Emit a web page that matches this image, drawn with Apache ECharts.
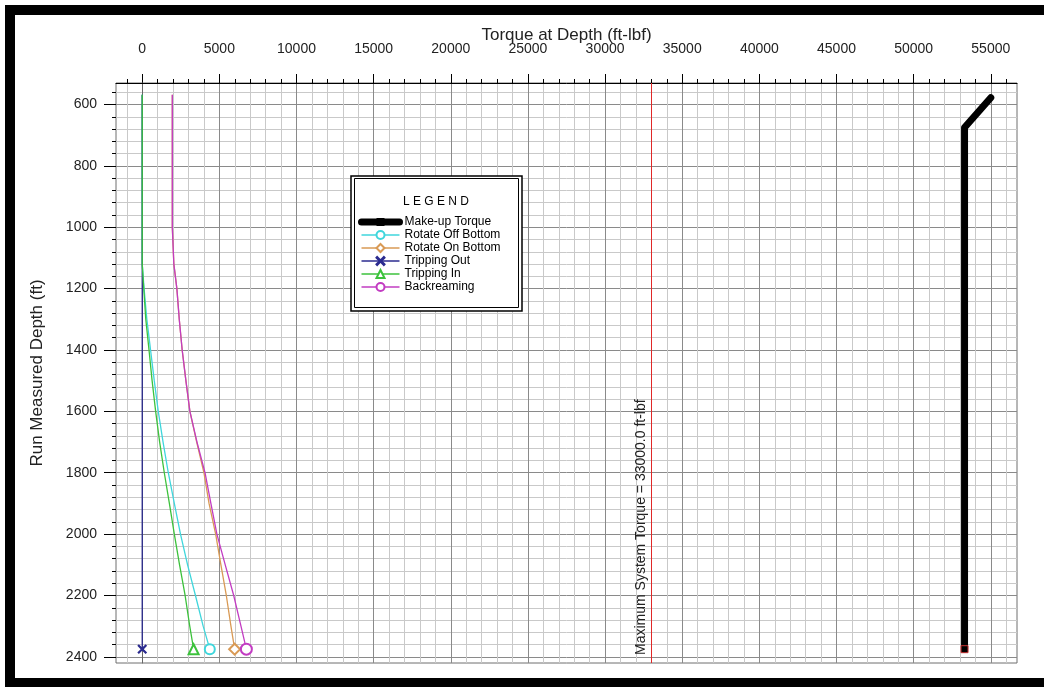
<!DOCTYPE html>
<html>
<head>
<meta charset="utf-8">
<script src="https://cdn.jsdelivr.net/npm/echarts@6/dist/echarts.min.js"></script>
<style>
html,body{margin:0;padding:0;background:#fff;}
#chart{width:1044px;height:687px;}
</style>
</head>
<body>
<div id="chart"></div>
<script>
// ---------------- data ----------------
const seriesNames = ['Make-up Torque','Rotate Off Bottom','Rotate On Bottom','Tripping Out','Tripping In','Backreaming'];
const depths = [568, 1000, 1120, 1200, 1300, 1400, 1500, 1600, 1700, 1800, 1900, 2000, 2100, 2200, 2300, 2375];
const rotateOffBottom = [0, 0, 0, 120, 300, 540, 780, 1040, 1350, 1690, 2080, 2480, 2940, 3450, 3950, 4380];
const rotateOnBottom  = [1950, 1950, 2050, 2245, 2400, 2590, 2830, 3090, 3530, 4000, 4330, 4760, 5100, 5450, 5750, 5990];
const trippingOut     = [0, 0, 0, 0, 0, 0, 0, 0, 0, 0, 0, 0, 0, 0, 0, 0];
const trippingIn      = [0, 0, 0, 100, 230, 440, 640, 870, 1130, 1430, 1760, 2080, 2420, 2780, 3080, 3330];
const backreaming     = [1950, 1950, 2050, 2245, 2400, 2590, 2830, 3090, 3550, 4070, 4450, 4840, 5380, 5930, 6400, 6750];
const makeupDepths = [578, 675, 2375];
const makeupTorque = [55000, 53300, 53300];
const maxSystemTorque = 33000;
const xTickLabels = [0, 5000, 10000, 15000, 20000, 25000, 30000, 35000, 40000, 45000, 50000, 55000];
const yTickLabels = [600, 800, 1000, 1200, 1400, 1600, 1800, 2000, 2200, 2400];

// ---------------- axis setup ----------------
const X_MIN = -1700, X_MAX = 56700, X_STEP = 100;
const Y_MIN = 530, Y_MAX = 2420, Y_STEP = 10;
const FONT = 'Liberation Sans, Arial, sans-serif';
const NONE = 'rgba(0,0,0,0)';

function cycle(min, step, len, fn) {
  const arr = [];
  for (let i = 0; i < len; i++) arr.push(fn(Math.round(min + i * step)));
  return arr;
}
const xGridColors = cycle(X_MIN, X_STEP, 50, v => v % 5000 === 0 ? '#8a8a8a' : (v % 1000 === 0 ? '#c9c9c9' : NONE));
const yGridColors = cycle(Y_MIN, Y_STEP, 20, v => v % 200 === 0 ? '#8a8a8a' : (v % 40 === 0 ? '#c9c9c9' : NONE));
const xMajTick = cycle(X_MIN, X_STEP, 50, v => v % 5000 === 0 ? '#000' : NONE);
const xMinTick = cycle(X_MIN, X_STEP, 50, v => v % 1000 === 0 ? '#000' : NONE);
const yMajTick = cycle(Y_MIN, Y_STEP, 20, v => v % 200 === 0 ? '#000' : NONE);
const yMinTick = cycle(Y_MIN, Y_STEP, 20, v => v % 40 === 0 ? '#000' : NONE);

function xAxisBase(gridIndex) {
  return {type:'value', gridIndex, min:X_MIN, max:X_MAX, interval:X_STEP, position:'top',
    axisLine:{show:false}, axisTick:{show:false}, axisLabel:{show:false}, splitLine:{show:false}};
}
function yAxisBase(gridIndex) {
  return {type:'value', gridIndex, min:Y_MIN, max:Y_MAX, interval:Y_STEP, inverse:true,
    axisLine:{show:false}, axisTick:{show:false}, axisLabel:{show:false}, splitLine:{show:false}};
}
function hidden(type, gridIndex) { return {type:'value', gridIndex, show:false, min:0, max:1}; }

const mainX = xAxisBase(0);
Object.assign(mainX, {
  axisLine:{show:true, lineStyle:{color:'#000', width:1}},
  axisLabel:{show:true, margin:27, fontSize:14, color:'#222', fontFamily:FONT,
    formatter: v => xTickLabels.indexOf(Math.round(v)) >= 0 ? String(Math.round(v)) : ''},
  splitLine:{show:true, lineStyle:{color:xGridColors, width:1}},
  name:'Torque at Depth (ft-lbf)', nameLocation:'middle', nameGap:39, nameMoveOverlap:false,
  nameTextStyle:{fontSize:17, color:'#222', fontFamily:FONT}
});
const mainY = yAxisBase(0);
Object.assign(mainY, {
  axisLine:{show:true, lineStyle:{color:'#666', width:1}},
  axisLabel:{show:true, margin:19, fontSize:14, color:'#222', fontFamily:FONT,
    formatter: v => yTickLabels.indexOf(Math.round(v)) >= 0 ? String(Math.round(v)) : ''},
  splitLine:{show:true, lineStyle:{color:yGridColors, width:1}},
  name:'Run Measured Depth (ft)', nameLocation:'middle', nameGap:70, nameMoveOverlap:false,
  nameTextStyle:{fontSize:17, color:'#222', fontFamily:FONT}
});

const tx1 = xAxisBase(1); tx1.splitLine = {show:true, lineStyle:{color:xMajTick, width:1}};
const tx2 = xAxisBase(2); tx2.splitLine = {show:true, lineStyle:{color:xMinTick, width:1}};
const ty3 = yAxisBase(3); ty3.splitLine = {show:true, lineStyle:{color:yMajTick, width:1}};
const ty4 = yAxisBase(4); ty4.splitLine = {show:true, lineStyle:{color:yMinTick, width:1}};

// ---------------- series ----------------
function makeData(xs, ys) {
  return xs.map((x, i) => i < xs.length - 1 ? {value:[x, ys[i]], symbol:'none'} : {value:[x, ys[i]]});
}
const X_PATH = 'path://M0,0.8L0.8,0L5,4.2L9.2,0L10,0.8L5.8,5L10,9.2L9.2,10L5,5.8L0.8,10L0,9.2L4.2,5Z';

const lineSeries = [
  {name:seriesNames[1], data:makeData(rotateOffBottom, depths), color:'#3fd6dc', symbol:'emptyCircle', symbolSize:10},
  {name:seriesNames[2], data:makeData(rotateOnBottom, depths), color:'#d99a55', symbol:'emptyDiamond', symbolSize:11},
  {name:seriesNames[3], data:makeData(trippingOut, depths), color:'#2b2b8f', symbol:X_PATH, symbolSize:8},
  {name:seriesNames[4], data:makeData(trippingIn, depths), color:'#3cc23c', symbol:'emptyTriangle', symbolSize:10},
  {name:seriesNames[5], data:makeData(backreaming, depths), color:'#c23cc2', symbol:'emptyCircle', symbolSize:11}
].map(s => ({
  type:'line', name:s.name, xAxisIndex:0, yAxisIndex:0, data:s.data,
  symbol:s.symbol, symbolSize:s.symbolSize, showSymbol:true, animation:false,
  lineStyle:{color:s.color, width:1.3},
  itemStyle:{color:s.color, borderColor:s.color, borderWidth:1.3}
}));

const makeupData = makeData(makeupTorque, makeupDepths);
makeupData[makeupData.length - 1].itemStyle = {color:'#000', borderColor:'#c83030', borderWidth:1};

const series = [{
  type:'line', name:seriesNames[0], xAxisIndex:0, yAxisIndex:0, data:makeupData,
  symbol:'rect', symbolSize:7, showSymbol:true, animation:false,
  lineStyle:{color:'#000', width:7, cap:'round', join:'round'},
  itemStyle:{color:'#000'},
  markLine:{
    silent:true, symbol:'none', animation:false,
    lineStyle:{color:'#e02828', width:1, type:'solid'},
    label:{show:true, position:'insideStartTop', distance:[8, 3], color:'#222', fontSize:14, fontFamily:FONT,
      formatter:'Maximum System Torque = ' + maxSystemTorque.toFixed(1) + ' ft-lbf'},
    data:[[{coord:[maxSystemTorque, Y_MAX]}, {coord:[maxSystemTorque, Y_MIN]}]]
  }
}].concat(lineSeries);

const legendData = seriesNames.map((n, i) => i === 0 ? {name:n, lineStyle:{width:7, cap:'round'}} : {name:n});

// ---------------- chart ----------------
const chart = echarts.init(document.getElementById('chart'), null, {renderer:'canvas'});
chart.setOption({
  backgroundColor:'#fff',
  animation:false,
  grid:[
    {left:116, top:83, right:27, bottom:24, show:true, borderColor:'#6e6e6e', borderWidth:1, backgroundColor:'#fff'},
    {left:116, top:74, right:27, height:9},
    {left:116, top:79, right:27, height:4},
    {left:104, width:12, top:83, bottom:24},
    {left:112, width:4, top:83, bottom:24}
  ],
  xAxis:[mainX, tx1, tx2, hidden('x',3), hidden('x',4)],
  yAxis:[mainY, hidden('y',1), hidden('y',2), ty3, ty4],
  legend:{
    data:legendData, orient:'vertical', left:358, top:216, itemWidth:38, itemHeight:10, itemGap:1,
    padding:0, selectedMode:false, z:6,
    lineStyle:{width:1.3},
    textStyle:{fontSize:12, color:'#000', fontFamily:FONT, lineHeight:12}
  },
  graphic:[
    {type:'rect', z:5, shape:{x:351, y:176, width:171, height:135}, style:{fill:'#fff', stroke:'#000', lineWidth:1.5}},
    {type:'rect', z:5, shape:{x:354.5, y:178.5, width:164, height:129}, style:{fill:'none', stroke:'#000', lineWidth:1}},
    {type:'text', z:6, style:{text:'L E G E N D', x:436, y:202, align:'center', verticalAlign:'middle', fontSize:12, fontFamily:FONT, fill:'#000'}},
    {type:'rect', z:10, shape:{x:5, y:5, width:1039, height:10}, style:{fill:'#000'}},
    {type:'rect', z:10, shape:{x:5, y:5, width:10, height:682}, style:{fill:'#000'}},
    {type:'rect', z:10, shape:{x:5, y:678, width:1039, height:9}, style:{fill:'#000'}}
  ],
  series:series
});
</script>
</body>
</html>
